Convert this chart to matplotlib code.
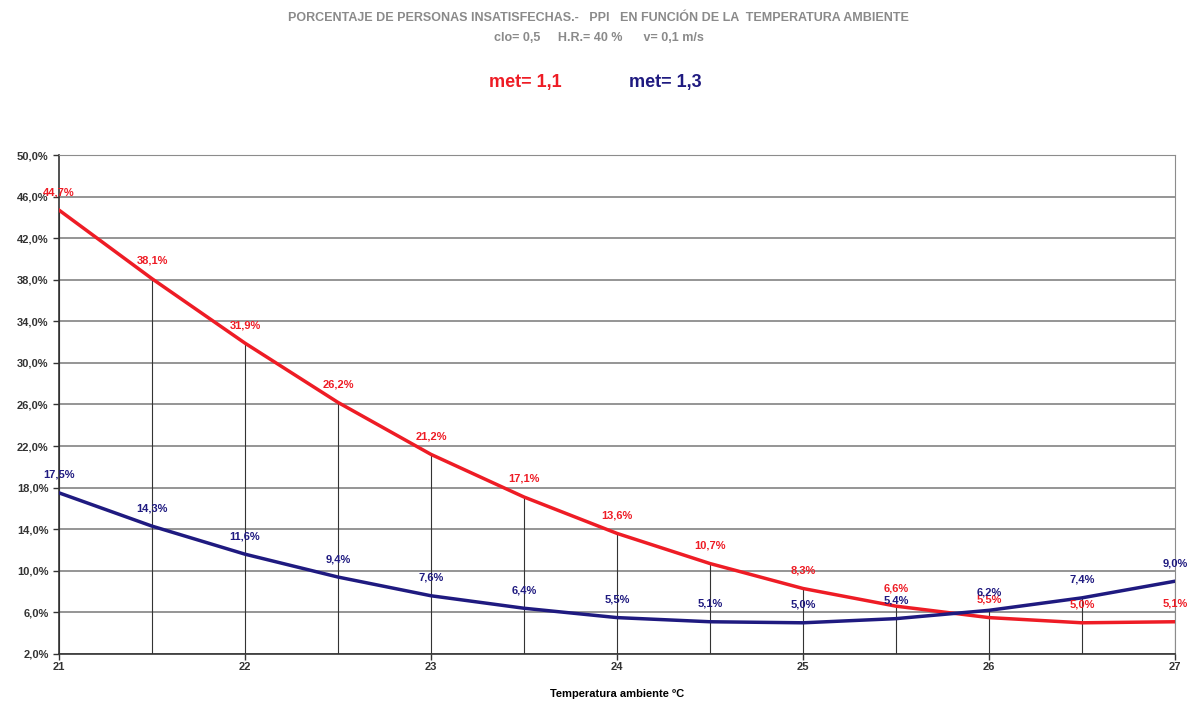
import matplotlib
matplotlib.use("Agg")
import matplotlib.pyplot as plt
import numpy as np

plt.rcParams['font.family'] = ['Liberation Sans', 'DejaVu Sans']

temp = [21, 21.5, 22, 22.5, 23, 23.5, 24, 24.5, 25, 25.5, 26, 26.5, 27]
ppi_met11 = [44.7, 38.1, 31.9, 26.2, 21.2, 17.1, 13.6, 10.7, 8.3, 6.6, 5.5, 5.0, 5.1]
ppi_met13 = [17.5, 14.3, 11.6, 9.4, 7.6, 6.4, 5.5, 5.1, 5.0, 5.4, 6.2, 7.4, 9.0]
yticks = [2, 6, 10, 14, 18, 22, 26, 30, 34, 38, 42, 46, 50]
xticks = [21, 22, 23, 24, 25, 26, 27]

red = '#ee1c25'
blue = '#1f1a80'

fig = plt.figure(figsize=(11.97, 7.02), dpi=100)
ax = fig.add_axes([0.0493, 0.0684, 0.9323, 0.7108])

# drop lines from the bottom up to the highest series
top = np.maximum(ppi_met11, ppi_met13)
ax.vlines(temp, 2, top, color='#333333', lw=0.8, zorder=1)

for yv in yticks:
    ax.axhline(yv, color='#8c8c8c', lw=1.3, zorder=0)

ax.plot(temp, ppi_met11, color=red, lw=2.5, zorder=3)
ax.plot(temp, ppi_met13, color=blue, lw=2.5, zorder=3)

def fmt(v):
    return ('%.1f%%' % v).replace('.', ',')

for x, v in zip(temp, ppi_met11):
    ax.annotate(fmt(v), (x, v), xytext=(0, 13), textcoords='offset points',
                ha='center', va='center', fontsize=8, fontweight='bold', color=red, zorder=5)
for x, v in zip(temp, ppi_met13):
    ax.annotate(fmt(v), (x, v), xytext=(0, 13), textcoords='offset points',
                ha='center', va='center', fontsize=8, fontweight='bold', color=blue, zorder=5)

ax.set_xlim(21, 27)
ax.set_ylim(2, 50)
ax.set_yticks(yticks)
ax.set_yticklabels([fmt(v) for v in yticks])
ax.set_xticks(xticks)
ax.tick_params(axis='both', labelsize=8, colors='#333333', length=4, width=1)
ax.tick_params(axis='x', pad=2)
for lab in ax.get_xticklabels() + ax.get_yticklabels():
    lab.set_fontweight('bold')

ax.spines['left'].set_color('#333333')
ax.spines['bottom'].set_color('#333333')
ax.spines['left'].set_linewidth(1.2)
ax.spines['bottom'].set_linewidth(1.2)
ax.spines['top'].set_color('#8c8c8c')
ax.spines['right'].set_color('#8c8c8c')

ax.set_xlabel('Temperatura ambiente ºC', fontsize=8, fontweight='bold', labelpad=12)

fig.text(0.5, 0.974, 'PORCENTAJE DE PERSONAS INSATISFECHAS.-   PPI   EN FUNCIÓN DE LA  TEMPERATURA AMBIENTE',
         ha='center', va='center', fontsize=9, fontweight='bold', color='#8a8a8a')
fig.text(0.5, 0.946, 'clo= 0,5     H.R.= 40 %      v= 0,1 m/s',
         ha='center', va='center', fontsize=9, fontweight='bold', color='#8a8a8a')
fig.text(0.4385, 0.883, 'met= 1,1', ha='center', va='center', fontsize=13,
         fontweight='bold', color=red)
fig.text(0.5555, 0.883, 'met= 1,3', ha='center', va='center', fontsize=13,
         fontweight='bold', color=blue)

fig.savefig('out.png', dpi=100)
